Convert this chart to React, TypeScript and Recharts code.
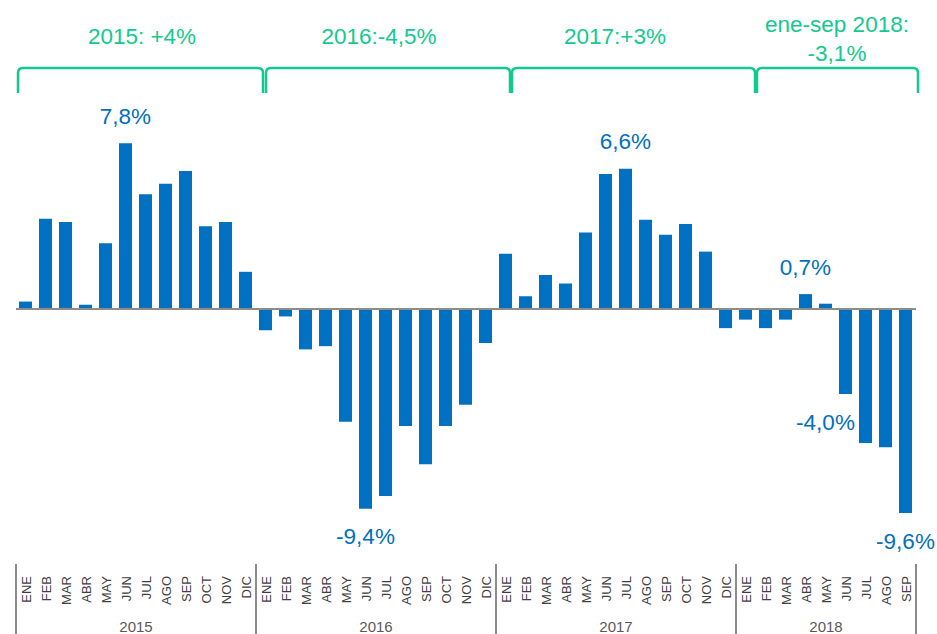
import { BarChart, Bar, XAxis, YAxis, ReferenceLine, LabelList } from 'recharts';

// Variación mensual (%) — ene 2015 a sep 2018
const MONTHS = ['ENE', 'FEB', 'MAR', 'ABR', 'MAY', 'JUN', 'JUL', 'AGO', 'SEP', 'OCT', 'NOV', 'DIC'];
const YEARS = ['2015', '2016', '2017', '2018'];

const VALUES_2015 = [0.35, 4.25, 4.1, 0.2, 3.1, 7.8, 5.4, 5.9, 6.5, 3.9, 4.1, 1.75];
const VALUES_2016 = [-1.0, -0.35, -1.9, -1.75, -5.3, -9.4, -8.8, -5.5, -7.3, -5.5, -4.5, -1.6];
const VALUES_2017 = [2.6, 0.6, 1.6, 1.2, 3.6, 6.35, 6.6, 4.2, 3.5, 4.0, 2.7, -0.9];
const VALUES_2018 = [-0.5, -0.9, -0.5, 0.7, 0.25, -4.0, -6.3, -6.5, -9.6];

const YEAR_SUMMARY = [['2015: +4%'], ['2016:-4,5%'], ['2017:+3%'], ['ene-sep 2018:', '-3,1%']];

// barras con etiqueta de valor
const LABELLED = [5, 17, 30, 39, 41, 44];

const BLUE = '#0070C0';
const GREEN = '#12C98F';
const GREY = '#8C8C8C';
const FONT = '"Liberation Sans", Arial, sans-serif';

const series = [VALUES_2015, VALUES_2016, VALUES_2017, VALUES_2018];

const data = series.flatMap((vals, y) =>
  vals.map((v, m) => ({ month: MONTHS[m], year: YEARS[y], value: v })),
).map((d, i) => ({ ...d, i }));

// límites y centros de cada año en unidades del eje
const starts: number[] = [];
let acc = 0;
series.forEach((vals) => {
  starts.push(acc);
  acc += vals.length;
});
const boundaries = [...starts.map((s) => s - 0.5), acc - 0.5];
const centers = series.map((vals, k) => starts[k] - 0.5 + vals.length / 2 + 0.001);
const monthTicks = data.map((d) => d.i);
const allTicks = [...monthTicks, ...boundaries, ...centers];

// llaves verdes sobre cada año (extremos algo desplazados, como en el original)
const BRACKETS = [
  { from: -0.4, to: 11.85, textAt: 5.8 },
  { from: 12.0, to: 24.2, textAt: 17.65 },
  { from: 24.3, to: 36.45, textAt: 29.45 },
  { from: 36.55, to: 44.6, textAt: 40.55 },
];
const BRACKET_Y = 11.34;

function AxisTick(props: any) {
  const { x, y, payload } = props;
  const v = payload.value as number;
  if (Number.isInteger(v)) {
    const d = data[v];
    return (
      <text
        transform={`translate(${x},${y + 12}) rotate(-90)`}
        textAnchor="end"
        dy="0.36em"
        fontSize={13}
        fontFamily={FONT}
        fill="#404040"
      >
        {d.month}
      </text>
    );
  }
  if (boundaries.includes(v)) {
    return <line x1={x} x2={x} y1={y} y2={y + 70} stroke={GREY} strokeWidth={2} />;
  }
  const k = centers.indexOf(v);
  return (
    <text x={x} y={y + 68} textAnchor="middle" fontSize={15} fontFamily={FONT} fill="#595959">
      {YEARS[k]}
    </text>
  );
}

function Bracket(props: any) {
  const { x1, x2, y1, ann, lines } = props;
  const drop = 25;
  const r = 5;
  const tx = x1 + ((ann.textAt - ann.from) / (ann.to - ann.from)) * (x2 - x1);
  const path = `M${x1},${y1 + drop} L${x1},${y1 + r} Q${x1},${y1} ${x1 + r},${y1} L${x2 - r},${y1} Q${x2},${y1} ${x2},${y1 + r} L${x2},${y1 + drop}`;
  const first = lines.length > 1 ? y1 - 44 : y1 - 32;
  return (
    <g>
      <path d={path} fill="none" stroke={GREEN} strokeWidth={2.5} />
      {lines.map((t: string, j: number) => (
        <text
          key={j}
          x={tx}
          y={first + j * 29}
          textAnchor="middle"
          dominantBaseline="central"
          fontSize={22.5}
          fontFamily={FONT}
          fill={GREEN}
        >
          {t}
        </text>
      ))}
    </g>
  );
}

function ValueLabel(props: any) {
  const { x, y, width, height, index } = props;
  if (!LABELLED.includes(index)) return null;
  const v = data[index].value;
  const top = Math.min(y, y + height);
  const bottom = Math.max(y, y + height);
  const dx = index === 41 ? -20 : 0;
  const cy = v >= 0 ? top - 27 : bottom + 28;
  return (
    <text
      x={x + width / 2 + dx}
      y={cy}
      textAnchor="middle"
      dominantBaseline="central"
      fontSize={22.5}
      fontFamily={FONT}
      fill={BLUE}
    >
      {`${v.toFixed(1).replace('.', ',')}%`}
    </text>
  );
}

export default function App() {
  return (
    <div style={{ position: 'absolute', left: 0, top: 0, background: '#fff' }}>
      <BarChart
        width={937}
        height={634}
        data={data}
        margin={{ top: 54, right: 21, left: 16, bottom: 0 }}
      >
        <XAxis
          dataKey="i"
          type="number"
          domain={[-0.5, acc - 0.5]}
          ticks={allTicks}
          interval={0}
          tick={<AxisTick />}
          tickLine={false}
          axisLine={false}
          tickSize={0}
          tickMargin={0}
          height={70}
          allowDataOverflow
        />
        <YAxis hide domain={[-12, 12]} allowDataOverflow />
        <Bar dataKey="value" fill={BLUE} barSize={13} isAnimationActive={false}>
          <LabelList dataKey="value" content={<ValueLabel />} />
        </Bar>
        <ReferenceLine y={0} stroke={GREY} strokeWidth={2} />
        {BRACKETS.map((b, k) => (
          <ReferenceLine
            key={k}
            segment={[
              { x: b.from, y: BRACKET_Y },
              { x: b.to, y: BRACKET_Y },
            ]}
            ifOverflow="visible"
            shape={(p: any) => <Bracket {...p} ann={b} lines={YEAR_SUMMARY[k]} />}
          />
        ))}
      </BarChart>
    </div>
  );
}
